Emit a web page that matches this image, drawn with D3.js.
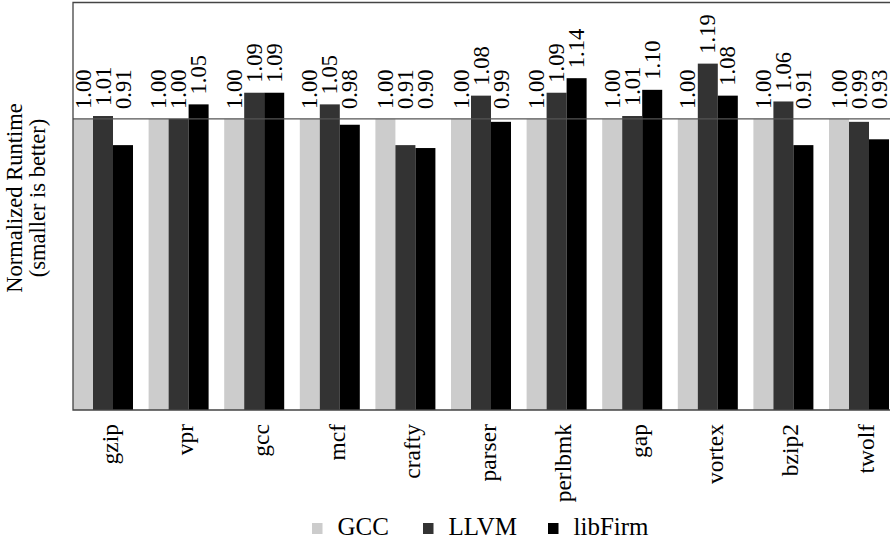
<!DOCTYPE html>
<html>
<head>
<meta charset="utf-8">
<script src="https://cdn.jsdelivr.net/npm/d3@7"></script>
<style>
  html, body { margin: 0; padding: 0; background: #fff; }
  svg { display: block; font-family: "Liberation Serif", "Times New Roman", serif; }
</style>
</head>
<body>
<svg id="chart" width="890" height="542"></svg>
<script>
const categories = ["gzip", "vpr", "gcc", "mcf", "crafty", "parser", "perlbmk", "gap", "vortex", "bzip2", "twolf"];
const seriesNames = ["GCC", "LLVM", "libFirm"];
const gccValues = [1.00, 1.00, 1.00, 1.00, 1.00, 1.00, 1.00, 1.00, 1.00, 1.00, 1.00];
const llvmValues = [1.01, 1.00, 1.09, 1.05, 0.91, 1.08, 1.09, 1.01, 1.19, 1.06, 0.99];
const libfirmValues = [0.91, 1.05, 1.09, 0.98, 0.90, 0.99, 1.14, 1.10, 1.08, 0.91, 0.93];
const seriesColors = ["#cccccc", "#333333", "#000000"];
const yDomain = [0, 1.4];
const referenceValue = 1.0;

(function () {
const seriesValues = [gccValues, llvmValues, libfirmValues];
const svg = d3.select("#chart");

const pLeft = 73, pTop = 2.5, pBottom = 410, step = 75.6;
const xEnd = pLeft + step * categories.length;
const x0 = d3.scaleBand().domain(categories).range([pLeft, xEnd]).padding(0);
const groupWidth = x0.bandwidth() * 0.7937;
const x1 = d3.scaleBand().domain(seriesNames).range([0, groupWidth]).padding(0);
const y = d3.scaleLinear().domain(yDomain).range([pBottom, pTop]);
const color = d3.scaleOrdinal().domain(seriesNames).range(seriesColors);

const rows = [];
categories.forEach((c, i) => {
  seriesNames.forEach((s, j) => rows.push({ cat: c, series: s, value: seriesValues[j][i] }));
});

const plot = svg.append("g");
plot.selectAll("rect.bar").data(rows).enter().append("rect")
  .attr("class", "bar")
  .attr("x", d => x0(d.cat) + x1(d.series))
  .attr("width", x1.bandwidth())
  .attr("y", d => y(d.value))
  .attr("height", d => y(0) - y(d.value))
  .attr("fill", d => color(d.series));

// reference line at 1.0
plot.append("line")
  .attr("x1", pLeft).attr("x2", 890)
  .attr("y1", y(referenceValue)).attr("y2", y(referenceValue))
  .attr("stroke", "#555").attr("stroke-width", 1.2);

// frame
svg.append("path")
  .attr("d", `M${xEnd},${pTop}H${pLeft}V${pBottom}H${xEnd}`)
  .attr("fill", "none").attr("stroke", "#444").attr("stroke-width", 1.3);

// value labels
plot.selectAll("text.val").data(rows).enter().append("text")
  .attr("class", "val")
  .attr("transform", d => `translate(${x0(d.cat) + x1(d.series) + x1.bandwidth() / 2},${y(Math.max(d.value, referenceValue)) - 10}) rotate(-90)`)
  .attr("dy", "0.34em")
  .attr("text-anchor", "start")
  .attr("font-size", 22.5)
  .attr("fill", "#000")
  .text(d => d3.format(".2f")(d.value));

// category labels
svg.selectAll("text.cat").data(categories).enter().append("text")
  .attr("class", "cat")
  .attr("transform", d => `translate(${x0(d) + x0.bandwidth() / 2},424) rotate(-90)`)
  .attr("dy", "0.3em")
  .attr("text-anchor", "end")
  .attr("font-size", 23.5)
  .text(d => d);

// y-axis title
const yt = svg.append("g").attr("transform", "translate(0,198)");
yt.append("text").attr("transform", "translate(22,0) rotate(-90)")
  .attr("text-anchor", "middle").attr("font-size", 22.5).text("Normalized Runtime");
yt.append("text").attr("transform", "translate(45,0) rotate(-90)")
  .attr("text-anchor", "middle").attr("font-size", 22.5).text("(smaller is better)");

// legend
const legendX = [312, 423, 548];
const lg = svg.append("g");
seriesNames.forEach((s, i) => {
  lg.append("rect").attr("x", legendX[i]).attr("y", 523).attr("width", 10.5).attr("height", 11)
    .attr("fill", color(s));
  lg.append("text").attr("x", legendX[i] + 25.5).attr("y", 535)
    .attr("font-size", 25).text(s);
});
})();
</script>
</body>
</html>
